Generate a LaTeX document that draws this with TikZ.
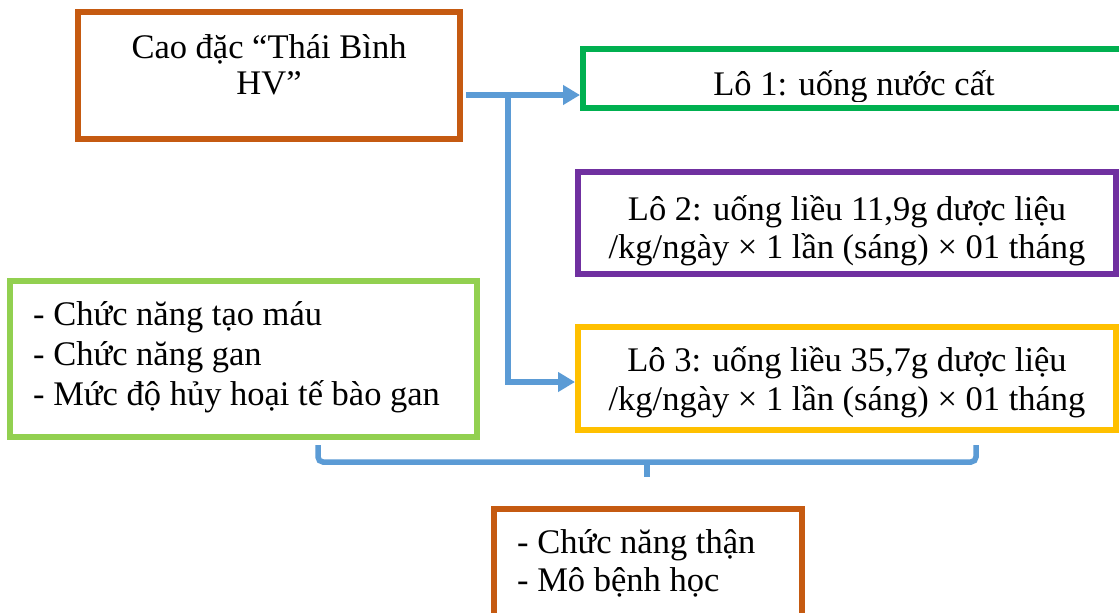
\documentclass[tikz,border=0pt]{standalone}
\usepackage{fontspec}
\setmainfont{Liberation Serif}
\usetikzlibrary{arrows.meta}
\definecolor{cOrange}{HTML}{C55A11}
\definecolor{cGreen}{HTML}{00B050}
\definecolor{cPurple}{HTML}{7030A0}
\definecolor{cLight}{HTML}{92D050}
\definecolor{cYellow}{HTML}{FFC000}
\definecolor{cBlue}{HTML}{5B9BD5}
\tikzset{
  box/.style={draw=#1, line width=6pt, inner sep=0pt, rectangle},
  txt/.style={inner sep=0pt, font=\fontsize{34.5}{38}\selectfont},
  conn/.style={draw=cBlue, line width=5.5pt, line join=miter, -{Triangle[length=17pt,width=19pt]}},
  bracket/.style={draw=cBlue, line width=5.5pt, rounded corners=5pt}
}
\begin{document}
\begin{tikzpicture}[x=1pt,y=-1pt]
\useasboundingbox (0,0) rectangle (1119,613);
\clip (0,0) rectangle (1119,613);
\fill[white] (0,0) rectangle (1119,613);
% boxes
\node[box=cOrange, minimum width=381.5pt, minimum height=127pt] (A) at (269,75) {};
\node[box=cGreen, minimum width=542pt, minimum height=59pt] (L1) at (854,78.5) {};
\node[box=cPurple, minimum width=538pt, minimum height=102.5pt] (L2) at (847,222.75) {};
\node[box=cYellow, minimum width=538pt, minimum height=103.5pt] (L3) at (847,378.25) {};
\node[box=cLight, minimum width=467pt, minimum height=156.5pt] (G) at (243.5,358.75) {};
\node[box=cOrange, minimum width=308pt, minimum height=131pt] (B) at (647.5,574.5) {};
% texts
\node[txt, anchor=base] (tA1) at (269,58) {Cao đặc “Thái Bình};
\node[txt, anchor=base] (tA2) at (269,94) {HV”};
\begin{scope}
\clip (583,49) rectangle (1125,101);
\node[txt, anchor=base] (t1) at (854,95) {Lô 1: uống nước cất};
\end{scope}
\node[txt, anchor=base] (t21) at (847,220) {Lô 2: uống liều 11,9g dược liệu};
\node[txt, anchor=base] (t22) at (847,258) {/kg/ngày × 1 lần (sáng) × 01 tháng};
\node[txt, anchor=base] (t31) at (847,371) {Lô 3: uống liều 35,7g dược liệu};
\node[txt, anchor=base] (t32) at (847,410) {/kg/ngày × 1 lần (sáng) × 01 tháng};
\node[txt, anchor=base west] (g1) at (33,325) {- Chức năng tạo máu};
\node[txt, anchor=base west] (g2) at (33,365) {- Chức năng gan};
\node[txt, anchor=base west] (g3) at (33,405) {- Mức độ hủy hoại tế bào gan};
\node[txt, anchor=base west] (b1) at (517,553) {- Chức năng thận};
\node[txt, anchor=base west] (b2) at (517,591) {- Mô bệnh học};
% connectors
\coordinate (j) at (508,95);
\coordinate (k) at (508,382);
\draw[conn] ([xshift=3pt]A.east |- j) -- (L1.west |- j);
\draw[conn] (j) -- (k) -- (L3.west |- k);
% bracket
\coordinate (bl) at (318,445);
\coordinate (br) at (976,445);
\coordinate (bm) at (647,462);
\coordinate (bt) at (647,477);
\draw[bracket] (bl) -- (bl |- bm) -- (br |- bm) -- (br);
\draw[draw=cBlue, line width=5.5pt] (bm) -- (bt);
\end{tikzpicture}
\end{document}
